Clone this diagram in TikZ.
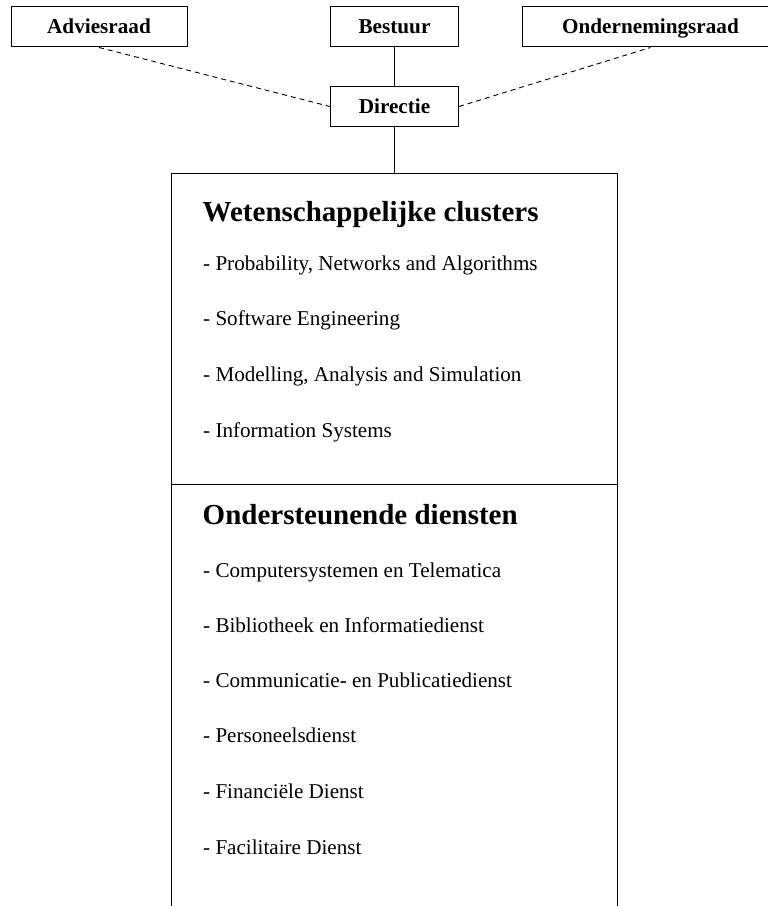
\documentclass[tikz,border=0pt]{standalone}
\usepackage{fontspec}
\setmainfont{Liberation Serif}
\begin{document}
\begin{tikzpicture}[x=1pt,y=1pt,
  lbl/.style={draw, line width=1pt, font=\fontsize{21.2}{25}\selectfont\bfseries,
    text height=14pt, text depth=0pt, inner sep=0pt, minimum height=40pt, anchor=center},
  sect/.style={draw, line width=1pt, inner sep=0pt, minimum width=446pt},
  head/.style={font=\fontsize{29}{34}\selectfont\bfseries, anchor=base west, inner sep=0pt},
  item/.style={font=\fontsize{21.1}{25}\selectfont, anchor=base west, inner sep=0pt},
  conn/.style={line width=1pt},
  dashline/.style={line width=0.9pt, dash pattern=on 5pt off 4pt}]
\useasboundingbox (0,0) rectangle (768,906);
\clip (0,0) rectangle (768,906);
\fill[white] (0,0) rectangle (768,906);

\node[lbl, minimum width=176pt] (advies) at (99,879) {Adviesraad};
\node[lbl, minimum width=128pt] (bestuur) at (394.5,879.5) {Bestuur};
\node[lbl, minimum width=257pt] (ondraad) at (650.5,879) {Ondernemingsraad};
\node[lbl, minimum width=128pt] (directie) at (394.5,799.5) {Directie};

\node[sect, minimum height=311pt] (clusters) at (394,576.5) {};
\node[sect, minimum height=475pt] (diensten) at (394,183.5) {};

\draw[conn] (bestuur.south) -- (directie.north);
\draw[conn] (directie.south) -- (directie.south |- clusters.north);
\draw[dashline] (advies.south) -- (directie.west);
\draw[dashline] (directie.east) -- (ondraad.south);

\node[head] (h1) at (202.5,684) {Wetenschappelijke clusters};
\node[item] (c1) at (203,635.3) {- Probability, Networks and Algorithms};
\node[item] (c2) at (203,580.3) {- Software Engineering};
\node[item] (c3) at (203,524.3) {- Modelling, Analysis and Simulation};
\node[item] (c4) at (203,468.7) {- Information Systems};

\node[head] (h2) at (202.5,381) {Ondersteunende diensten};
\node[item] (d1) at (203,328) {- Computersystemen en Telematica};
\node[item] (d2) at (203,273) {- Bibliotheek en Informatiedienst};
\node[item] (d3) at (203,218) {- Communicatie- en Publicatiedienst};
\node[item] (d4) at (203,163) {- Personeelsdienst};
\node[item] (d5) at (203,107) {- Financiële Dienst};
\node[item] (d6) at (203,51) {- Facilitaire Dienst};
\end{tikzpicture}
\end{document}
